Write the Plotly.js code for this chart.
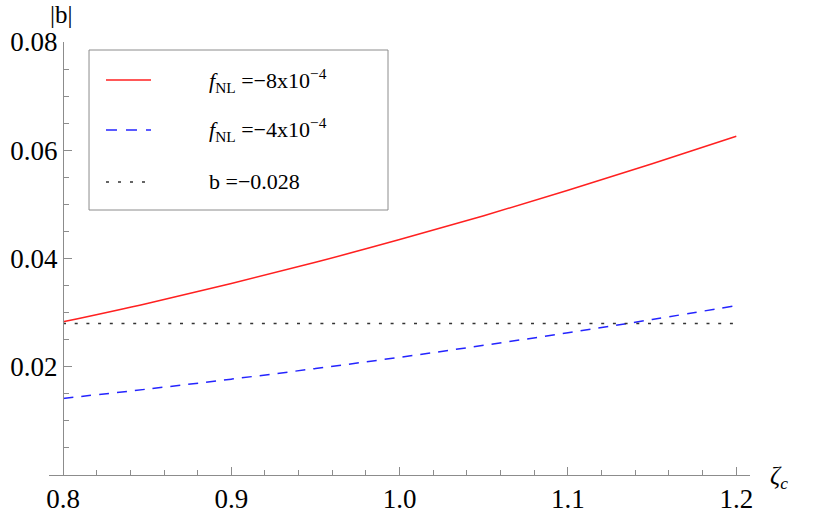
<!DOCTYPE html>
<html>
<head>
<meta charset="utf-8">
<script src="https://cdn.plot.ly/plotly-3.0.1.min.js"></script>
<style>html,body{margin:0;padding:0;background:#fff;}#chart{width:830px;height:518px;}</style>
</head>
<body>
<div id="chart"></div>
<script>
const zeta = [0.80, 0.85, 0.90, 0.95, 1.00, 1.05, 1.10, 1.15, 1.20];
const fnl8 = [0.0283, 0.0317, 0.0354, 0.0393, 0.0435, 0.0479, 0.0526, 0.0575, 0.0626];
const fnl4 = [0.01415, 0.01587, 0.01771, 0.01967, 0.02175, 0.02396, 0.02628, 0.02873, 0.0313];
const bLevel = [0.028, 0.028];
const bX = [0.80, 1.20];
const xTickVals = [0.8, 0.9, 1.0, 1.1, 1.2];
const xTickText = ['0.8', '0.9', '1.0', '1.1', '1.2'];
const yTickVals = [0.02, 0.04, 0.06, 0.08];
const yTickText = ['0.02', '0.04', '0.06', '0.08'];
const legendLabels = ['<i>f</i><sub>NL</sub> =\u22128x10<sup>\u22124</sup>', '<i>f</i><sub>NL</sub> =\u22124x10<sup>\u22124</sup>', 'b =\u22120.028'];

const SERIF = "'Liberation Serif', 'Times New Roman', Times, serif";
const axisCol = '#8c8c8c';

const traces = [
  {x: zeta, y: fnl8, type: 'scatter', mode: 'lines', line: {color: '#ff2020', width: 1.5, shape: 'spline'}, showlegend: false},
  {x: zeta, y: fnl4, type: 'scatter', mode: 'lines', line: {color: '#2424ff', width: 1.5, dash: '10px,8px', shape: 'spline'}, showlegend: false},
  {x: bX, y: bLevel, type: 'scatter', mode: 'lines', line: {color: '#333333', width: 1.5, dash: '3px,8.7px'}, showlegend: false}
];

const lx0 = 0.0571, lx1 = 0.4836, ly0 = 0.6120, ly1 = 0.9815;
const sx0 = 0.0813, sx1 = 0.1455, tx = 0.2254;
const rows = [0.9122, 0.7968, 0.6767];
const sampleStyles = [
  {color: '#ff2020', width: 1.5, dash: 'solid'},
  {color: '#2424ff', width: 1.5, dash: '11px,9px'},
  {color: '#333333', width: 1.5, dash: '3px,9px'}
];

const shapes = [
  {type: 'rect', xref: 'paper', yref: 'paper', x0: lx0, x1: lx1, y0: ly0, y1: ly1, line: {color: '#8c8c8c', width: 1}, fillcolor: 'rgba(255,255,255,1)', layer: 'above'}
];
rows.forEach((ry, i) => {
  shapes.push({type: 'line', xref: 'paper', yref: 'paper', x0: sx0, x1: sx1, y0: ry, y1: ry, line: sampleStyles[i], layer: 'above'});
});

const annotations = rows.map((ry, i) => ({
  xref: 'paper', yref: 'paper', x: tx, y: ry, xanchor: 'left', yanchor: 'middle',
  text: legendLabels[i], showarrow: false, font: {family: SERIF, size: 22, color: '#000'}
}));
annotations.push({xref: 'paper', yref: 'paper', x: 0.0185, y: 1.0624, xanchor: 'center', yanchor: 'middle', text: '|b|', showarrow: false, font: {family: SERIF, size: 25, color: '#000'}});
annotations.push({xref: 'paper', yref: 'paper', x: 1.0414, y: -0.0069, xanchor: 'center', yanchor: 'middle', text: '<i>\u03b6</i><sub><i>c</i></sub>', showarrow: false, font: {family: SERIF, size: 25, color: '#000'}});

const layout = {
  width: 830, height: 518,
  margin: {l: 49, r: 80, t: 42, b: 43, pad: 0},
  paper_bgcolor: '#fff', plot_bgcolor: '#fff',
  showlegend: false,
  font: {family: SERIF, size: 26, color: '#000'},
  xaxis: {
    range: [0.79168, 1.20814], showgrid: false, zeroline: false,
    showline: true, linecolor: axisCol, linewidth: 1,
    tickmode: 'array', tickvals: xTickVals, ticktext: xTickText,
    ticks: 'inside', ticklen: 8, tickcolor: axisCol, tickwidth: 1,
    tickfont: {family: SERIF, size: 27, color: '#000'},
    minor: {tickmode: 'linear', tick0: 0.8, dtick: 0.02, ticks: 'inside', ticklen: 5, tickcolor: axisCol, tickwidth: 1, showgrid: false}
  },
  yaxis: {
    range: [0, 0.08], anchor: 'free', position: 0.01997, showgrid: false, zeroline: false,
    showline: true, linecolor: axisCol, linewidth: 1,
    tickmode: 'array', tickvals: yTickVals, ticktext: yTickText,
    ticks: 'inside', ticklen: 8, tickcolor: axisCol, tickwidth: 1,
    tickfont: {family: SERIF, size: 27, color: '#000'},
    minor: {tickmode: 'linear', tick0: 0, dtick: 0.005, ticks: 'inside', ticklen: 5, tickcolor: axisCol, tickwidth: 1, showgrid: false}
  },
  shapes: shapes,
  annotations: annotations
};

Plotly.newPlot('chart', traces, layout, {displayModeBar: false, staticPlot: true});
</script>
</body>
</html>
